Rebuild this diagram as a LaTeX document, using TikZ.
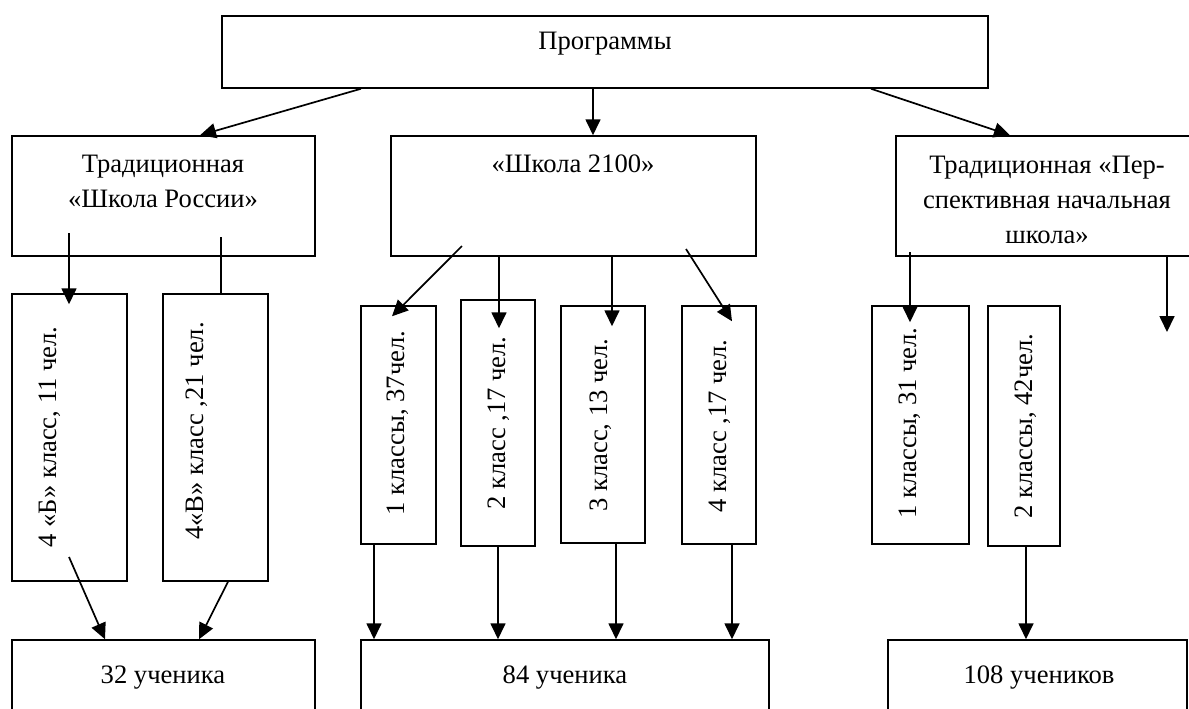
\documentclass[tikz,border=0pt]{standalone}
\usepackage{fontspec}
\setmainfont{Liberation Serif}
\usetikzlibrary{fit,arrows.meta}
\begin{document}
\begin{tikzpicture}[x=0.5pt,y=-0.5pt,
  box/.style={draw, line width=0.75pt, inner sep=0pt},
  txt/.style={font=\fontsize{13.3}{17.5}\selectfont, inner sep=0pt, align=center},
  vtxt/.style={txt, rotate=90},
  arr/.style={line width=0.85pt, -{Triangle[length=8pt,width=7.5pt]}},
  ln/.style={line width=0.85pt}]
\useasboundingbox (0,0) rectangle (1189,708);
\clip (0,0) rectangle (1189,708);
% boxes
\node[box, fit={(222,16) (988,88)}] (prog) {};
\node[box, fit={(12,136) (315,256)}] (tr) {};
\node[box, fit={(391,136) (756,256)}] (s) {};
\node[box, fit={(896,136) (1200,256)}] (pn) {};
\node[box, fit={(12,294) (127,581)}] (b4b) {};
\node[box, fit={(163,294) (268,581)}] (b4v) {};
\node[box, fit={(361,306) (436,544)}] (c1) {};
\node[box, fit={(461,300) (535,546)}] (c2) {};
\node[box, fit={(561,306) (645,543)}] (c3) {};
\node[box, fit={(682,306) (756,544)}] (c4) {};
\node[box, fit={(872,306) (969,544)}] (p1) {};
\node[box, fit={(988,306) (1060,546)}] (p2) {};
\node[box, fit={(12,640) (315,730)}] (t32) {};
\node[box, fit={(361,640) (769,730)}] (t84) {};
\node[box, fit={(888,640) (1187,730)}] (t108) {};
% texts
\node[txt] (tprog) at (605,44) {Программы};
\node[txt] (ttr) at (163,181) {Традиционная\\«Школа России»};
\node[txt] (ts) at (573,164) {«Школа 2100»};
\node[txt] (tpn) at (1047,200) {Традиционная «Пер-\\спективная начальная\\школа»};
\node[vtxt] (tb4b) at (50,437) {4 «Б» класс, 11 чел.};
\node[vtxt] (tb4v) at (197,431) {4«В» класс ,21 чел.};
\node[vtxt] (tc1) at (398,423) {1 классы, 37чел.};
\node[vtxt] (tc2) at (499,423) {2 класс ,17 чел.};
\node[vtxt] (tc3) at (601,425) {3 класс, 13 чел.};
\node[vtxt] (tc4) at (720,426) {4 класс ,17 чел.};
\node[vtxt] (tp1) at (910,423) {1 классы, 31 чел.};
\node[vtxt] (tp2) at (1026,426) {2 классы, 42чел.};
\node[txt] (tt32) at (163,678) {32 ученика};
\node[txt] (tt84) at (565,678) {84 ученика};
\node[txt] (tt108) at (1039,678) {108 учеников};
% free ends
\coordinate (a4s) at (69,233);
\coordinate (a5s) at (221,237);
\coordinate (a6s) at (462,246);
\coordinate (a9s) at (686,249);
\coordinate (a10s) at (910,252);
\coordinate (a11e) at (1167,332);
\coordinate (a12s) at (69,557);
% connectors
\draw[arr] (prog.south -| 361,0) -- (tr.north -| 200,0);
\draw[arr] (prog.south -| 593,0) -- (s.north -| 593,0);
\draw[arr] (prog.south -| 871,0) -- (pn.north -| 1010,0);
\draw[arr] (a4s) -- ([yshift=-5.5pt]b4b.north -| a4s);
\draw[ln] (a5s) -- (b4v.north -| a5s);
\draw[arr] (a6s) -- ([yshift=-5.5pt]c1.north -| 392,0);
\draw[arr] (s.south -| 499,0) -- ([yshift=-14.5pt]c2.north -| 499,0);
\draw[arr] (s.south -| 612,0) -- ([yshift=-10.5pt]c3.north -| 612,0);
\draw[arr] (a9s) -- ([yshift=-8pt]c4.north -| 732,0);
\draw[arr] (a10s) -- ([yshift=-8.5pt]p1.north -| a10s);
\draw[arr] (pn.south -| a11e) -- (a11e);
\draw[arr] (a12s) -- (t32.north -| 105,0);
\draw[arr] (b4v.south -| 228,0) -- (t32.north -| 199,0);
\draw[arr] (c1.south -| 374,0) -- (t84.north -| 374,0);
\draw[arr] (c2.south -| 498,0) -- (t84.north -| 498,0);
\draw[arr] (c3.south -| 616,0) -- (t84.north -| 616,0);
\draw[arr] (c4.south -| 732,0) -- (t84.north -| 732,0);
\draw[arr] (p2.south -| 1026,0) -- (t108.north -| 1026,0);
\end{tikzpicture}
\end{document}
